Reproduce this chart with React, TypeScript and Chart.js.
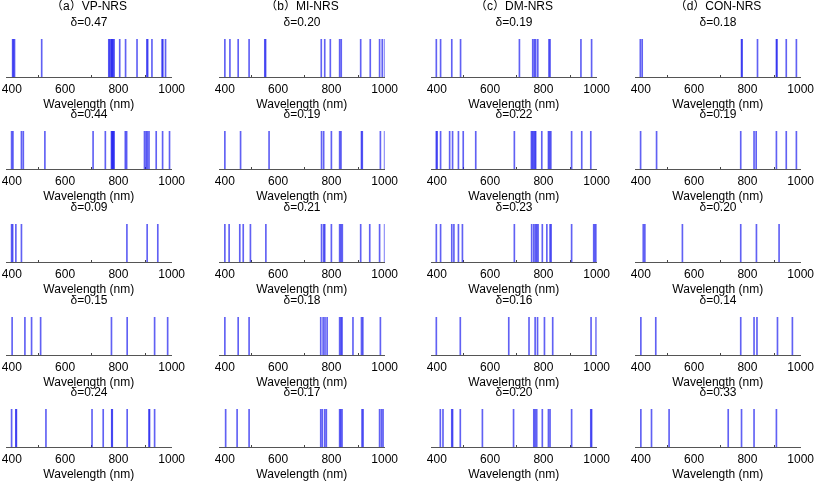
import React, { useEffect, useRef } from "react";
import { Chart, registerables } from "chart.js";

Chart.register(...registerables);

// ---- data ----
const tickValues = [400, 600, 800, 1000];
const methodTitles = ["（a）VP-NRS", "（b）MI-NRS", "（c）DM-NRS", "（d）CON-NRS"];
const vpDelta = ["0.47", "0.44", "0.09", "0.15", "0.24"];
const miDelta = ["0.20", "0.19", "0.21", "0.18", "0.17"];
const dmDelta = ["0.19", "0.22", "0.23", "0.16", "0.20"];
const conDelta = ["0.18", "0.19", "0.20", "0.14", "0.33"];

// selected wavelengths (nm)
const vp1 = [403, 406, 410, 512, 764, 767, 772, 775, 777, 780, 784, 805, 827, 870, 907, 910, 926, 964, 967, 977];
const vp2 = [399, 404, 436, 443, 524, 705, 751, 774, 776, 779, 781, 784, 826, 831, 898, 904, 909, 915, 942, 966, 992];
const vp3 = [399, 403, 415, 436, 832, 908, 948];
const vp4 = [401, 449, 474, 508, 774, 833, 936, 985];
const vp5 = [399, 415, 417, 528, 701, 743, 775, 777, 833, 915, 917, 936];

const mi1 = [400, 419, 450, 491, 550, 553, 762, 775, 796, 831, 837, 910, 946, 981, 991, 1000];
const mi2 = [400, 459, 566, 763, 771, 800, 831, 836, 913, 916, 984, 1000];
const mi3 = [400, 416, 456, 469, 496, 554, 763, 771, 775, 800, 831, 836, 841, 910, 944, 981, 1000];
const mi4 = [400, 450, 491, 760, 769, 776, 784, 831, 836, 840, 881, 913, 918, 984];
const mi5 = [403, 446, 491, 760, 766, 775, 781, 831, 835, 840, 915, 919, 981, 988, 994];

const dm1 = [398, 414, 456, 489, 710, 760, 766, 771, 779, 821, 825, 941, 981];
const dm2 = [398, 401, 414, 448, 459, 481, 499, 546, 691, 755, 759, 763, 768, 771, 794, 819, 823, 828, 906, 944, 978];
const dm3 = [398, 414, 456, 464, 481, 496, 691, 756, 764, 770, 775, 780, 796, 813, 825, 829, 906, 989, 994, 999];
const dm4 = [398, 488, 670, 746, 769, 778, 804, 835, 979, 998];
const dm5 = [413, 423, 456, 459, 488, 571, 688, 764, 769, 775, 796, 819, 825, 906, 978, 981];

const con1 = [398, 405, 778, 780, 838, 909, 911, 946, 984];
const con2 = [399, 459, 775, 825, 833, 909, 946, 984];
const con3 = [409, 415, 556, 775, 834, 919];
const con4 = [400, 456, 775, 825, 836, 913, 969];
const con5 = [400, 440, 506, 728, 778, 825, 909];

const panelData = [
  [vp1, vp2, vp3, vp4, vp5],
  [mi1, mi2, mi3, mi4, mi5],
  [dm1, dm2, dm3, dm4, dm5],
  [con1, con2, con3, con4, con5],
];
const deltas = [vpDelta, miDelta, dmDelta, conDelta];

// ---- layout ----
const FONT = "'Liberation Sans', Arial, 'Noto Sans CJK SC', sans-serif";
const colChartLeft = [6, 219, 431, 635];
const CHART_W = 166;
const PAD_X = 20;
const rowAxisY = [77, 169, 262, 355, 447];
const PLOT_H = 38;
const SCALE_H = 36;

function Panel({ col, row }: { col: number; row: number }) {
  const ref = useRef<HTMLCanvasElement | null>(null);
  const titleBox = row === 0 ? 40 : 24;
  const top = rowAxisY[row] - PLOT_H - titleBox;
  const height = titleBox + PLOT_H + SCALE_H;
  const left = colChartLeft[col] - PAD_X;
  const width = CHART_W + 2 * PAD_X;

  useEffect(() => {
    if (!ref.current) return;
    const values = panelData[col][row];
    const deltaText = "δ=" + deltas[col][row];
    const titleText = row === 0 ? [methodTitles[col], deltaText] : [deltaText];
    const chart = new Chart(ref.current, {
      type: "bar",
      data: {
        datasets: [
          {
            data: values.map((v) => ({ x: v, y: 1 })),
            backgroundColor: "rgba(30,30,240,0.7)",
            borderWidth: 0,
            barThickness: 1,
          } as any,
        ],
      },
      options: {
        responsive: false,
        animation: false,
        events: [],
        layout: { padding: { left: PAD_X, right: PAD_X, top: 0, bottom: 0 } },
        plugins: {
          legend: { display: false },
          tooltip: { enabled: false },
          title: {
            display: true,
            text: titleText,
            color: "#000",
            font: { family: FONT, size: 12, weight: "normal", lineHeight: 16 / 12 },
            padding: { top: 0, bottom: 8 },
          },
        },
        scales: {
          x: {
            type: "linear",
            min: 378,
            max: 1000,
            offset: false,
            grid: {
              display: true,
              drawOnChartArea: false,
              drawTicks: true,
              tickLength: -2,
              color: "#444",
              lineWidth: 1,
            },
            border: { display: true, color: "#555", width: 1 },
            afterBuildTicks: (s: any) => {
              s.ticks = tickValues.map((v) => ({ value: v }));
            },
            afterFit: (s: any) => {
              s.height = SCALE_H;
            },
            ticks: {
              padding: 7,
              color: "#000",
              autoSkip: false,
              maxRotation: 0,
              font: { family: FONT, size: 12 },
              callback: (v: any) => String(v),
            },
            title: {
              display: true,
              text: "Wavelength (nm)",
              color: "#000",
              font: { family: FONT, size: 12 },
              padding: { top: 0, bottom: 0.8 },
            },
          },
          y: { display: false, min: 0, max: 1 },
        },
      } as any,
    });
    return () => chart.destroy();
  }, [col, row]);

  return (
    <canvas
      ref={ref}
      width={width}
      height={height}
      style={{ position: "absolute", left, top, width, height }}
    />
  );
}

export default function App() {
  const panels = [];
  for (let c = 0; c < 4; c++) {
    for (let r = 0; r < 5; r++) {
      panels.push(<Panel key={c + "-" + r} col={c} row={r} />);
    }
  }
  return (
    <div
      style={{
        position: "fixed",
        left: 0,
        top: 0,
        width: 815,
        height: 483,
        overflow: "hidden",
        background: "#fff",
      }}
    >
      {panels}
    </div>
  );
}
